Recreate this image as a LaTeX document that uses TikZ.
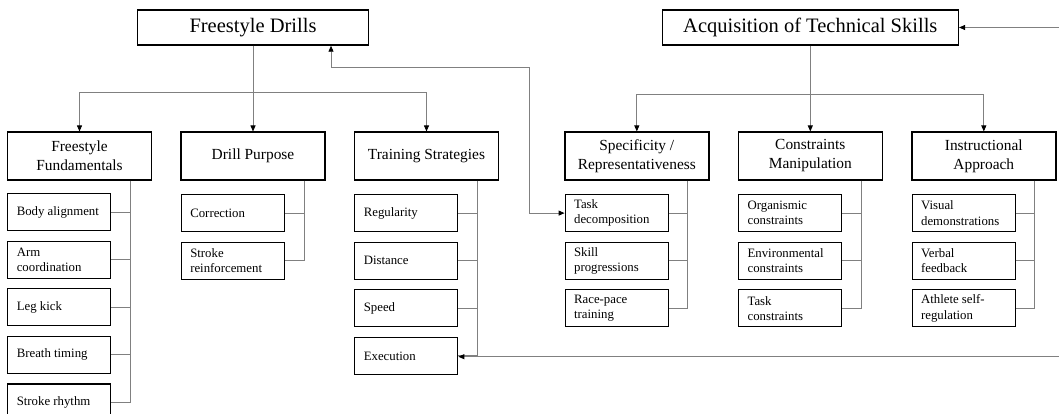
\documentclass[tikz,border=0pt]{standalone}
\usepackage{fontspec}
\setmainfont{Liberation Serif}
\usetikzlibrary{arrows.meta,positioning}
\hyphenpenalty=10000

\begin{document}
\begin{tikzpicture}[
                    x=1pt, y=1pt,
                    >={Triangle[length=6pt,width=5pt,color=black]},
                    link/.style={draw=black!50, line width=0.9pt},
                    head/.style={draw, line width=1.5pt, minimum height=35pt, inner sep=0pt,
                                 font=\fontsize{20.5}{24}\selectfont},
                    group/.style={draw, line width=1.5pt, minimum width=144pt, minimum height=47.6pt,
                                  inner sep=1pt, align=center, font=\fontsize{15.4}{19}\selectfont},
                    item/.style={draw, line width=1.1pt, text width=85pt, inner xsep=9pt, inner ysep=2pt,
                                 minimum height=37pt, align=flush left, font=\fontsize{12.8}{15.3}\selectfont},
                    node distance=9.5pt
                ]
                \useasboundingbox (0,0) rectangle (1059,-414);

                \node[head, minimum width=230.6pt] (drills) at (253,-27.5) {Freestyle Drills};
                \node[head, minimum width=296pt] (skills) at (810.3,-27.5) {Acquisition of Technical Skills};

                \node[group] (purpose) [below=85.7pt of drills] {Drill Purpose};
                \node[group] (basics) [left=28pt of purpose] {Freestyle\\Fundamentals};
                \node[group] (strategies) [right=28pt of purpose] {Training Strategies};
                \node[group] (constraints) [below=85.7pt of skills] {Constraints\\Manipulation};
                \node[group] (specificity) [left=28pt of constraints] {Specificity /\\Representativeness};
                \node[group] (instruction) [right=28pt of constraints] {Instructional\\Approach};

                \node[item] (body) [below right=12.5pt and 0.5pt of basics.south west] {Body alignment};
                \node[item] (arm) [below=of body] {Arm\\coordination};
                \node[item] (leg) [below=of arm] {Leg kick};
                \node[item] (breath) [below=of leg] {Breath timing};
                \node[item] (rhythm) [below=of breath] {Stroke rhythm};

                \node[item] (correction) [below right=13.5pt and 0.5pt of purpose.south west] {Correction};
                \node[item] (reinforce) [below=of correction] {Stroke\\reinforcement};

                \node[item] (regularity) [below right=13.5pt and 0.5pt of strategies.south west] {Regularity};
                \node[item] (distance) [below=of regularity] {Distance};
                \node[item] (speed) [below=of distance] {Speed};
                \node[item] (execution) [below=of speed] {Execution};

                \node[item] (decomp) [below right=13.5pt and 0.5pt of specificity.south west] {Task\\decomposition};
                \node[item] (progress) [below=of decomp] {Skill\\progressions};
                \node[item] (racepace) [below=of progress] {Race-pace\\training};

                \node[item] (organismic) [below right=13.5pt and 0.5pt of constraints.south west] {Organismic\\constraints};
                \node[item] (environment) [below=of organismic] {Environmental\\constraints};
                \node[item] (taskcon) [below=of environment] {Task\\constraints};

                \node[item] (visual) [below right=13.5pt and 0.5pt of instruction.south west] {Visual\\demonstrations};
                \node[item] (verbal) [below=of visual] {Verbal\\feedback};
                \node[item] (selfreg) [below=of verbal] {Athlete self-\\regulation};

                \coordinate (basics-bar) at ([xshift=51pt]basics.south);
                \coordinate (purpose-bar) at ([xshift=51pt]purpose.south);
                \coordinate (strategies-bar) at ([xshift=51pt]strategies.south);
                \coordinate (specificity-bar) at ([xshift=51pt]specificity.south);
                \coordinate (constraints-bar) at ([xshift=51pt]constraints.south);
                \coordinate (instruction-bar) at ([xshift=51pt]instruction.south);
                \coordinate (right-top) at (1059,-27.5);
                \coordinate (right-low) at (1059,-356.7);

                \draw[link,->] (drills.south) -- (purpose.north);
                \draw[link,->] ([yshift=-46.7pt]drills.south) -| (basics.north);
                \draw[link,->] ([yshift=-46.7pt]drills.south) -| (strategies.north);
                \draw[link,->] (skills.south) -- (constraints.north);
                \draw[link,->] ([yshift=-49pt]skills.south) -| (specificity.north);
                \draw[link,->] ([yshift=-49pt]skills.south) -| (instruction.north);

                \draw[link] (basics-bar) |- (rhythm.east);
                \draw[link] (purpose-bar) |- (reinforce.east);
                \draw[link] (strategies-bar) |- (execution.east);
                \draw[link] (specificity-bar) |- (racepace.east);
                \draw[link] (constraints-bar) |- (taskcon.east);
                \draw[link] (instruction-bar) |- (selfreg.east);

                \draw[link]
                (body.east) edge (body.east -| basics-bar)
                (arm.east) edge (arm.east -| basics-bar)
                (leg.east) edge (leg.east -| basics-bar)
                (breath.east) edge (breath.east -| basics-bar)
                (correction.east) edge (correction.east -| purpose-bar)
                (regularity.east) edge (regularity.east -| strategies-bar)
                (distance.east) edge (distance.east -| strategies-bar)
                (speed.east) edge (speed.east -| strategies-bar)
                (decomp.east) edge (decomp.east -| specificity-bar)
                (progress.east) edge (progress.east -| specificity-bar)
                (organismic.east) edge (organismic.east -| constraints-bar)
                (environment.east) edge (environment.east -| constraints-bar)
                (visual.east) edge (visual.east -| instruction-bar)
                (verbal.east) edge (verbal.east -| instruction-bar)
                ;

                \draw[link,<->] ([xshift=78pt]drills.south) -- ++(0,-21.7) -| ([xshift=-34.8pt]decomp.west) -- (decomp.west);
                \draw[link,->] (right-top) -- (skills.east);
                \draw[link,->] (right-low) -- (right-low -| execution.east);
            \end{tikzpicture}
\end{document}
